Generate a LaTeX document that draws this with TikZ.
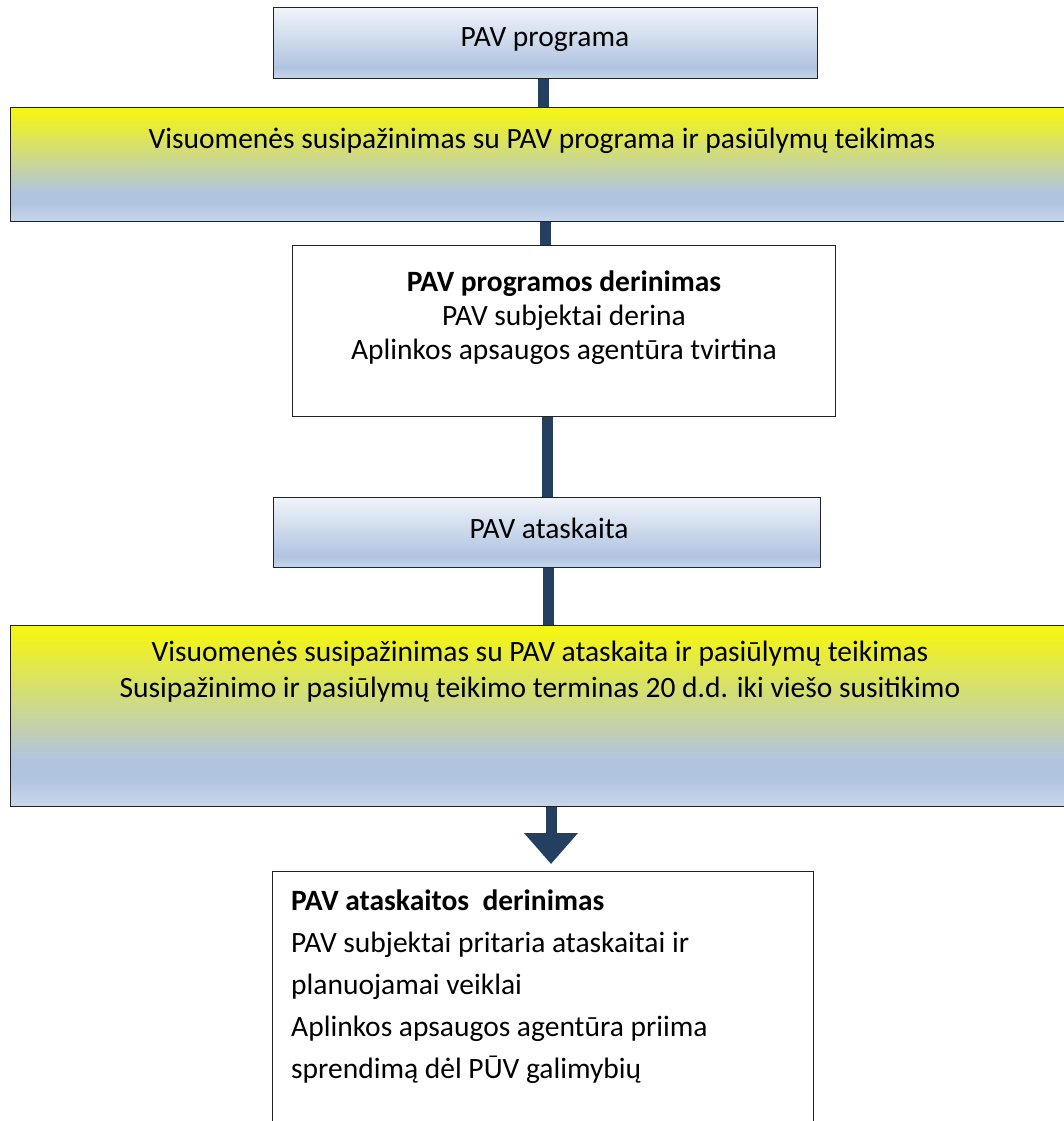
\documentclass[tikz,border=0pt]{standalone}
\usepackage{fontspec}
\setmainfont{Carlito}
\usetikzlibrary{arrows.meta}
\definecolor{yel}{RGB}{247,247,12}
\definecolor{blu}{RGB}{176,196,224}
\definecolor{blulight}{RGB}{200,215,236}
\definecolor{topwhite}{RGB}{240,244,250}
\definecolor{conn}{RGB}{36,63,96}
\definecolor{edge}{RGB}{35,35,35}
\pgfdeclareverticalshading{yelshade}{100bp}{color(0bp)=(blulight); color(25bp)=(blulight); color(33bp)=(blu); color(38bp)=(blu); color(75bp)=(yel); color(100bp)=(yel)}
\pgfdeclareverticalshading{blushade}{100bp}{color(0bp)=(blulight); color(25bp)=(blulight); color(33bp)=(blu); color(75bp)=(topwhite); color(100bp)=(topwhite)}
\tikzset{
  boxbase/.style={draw=edge, line width=1.4pt, inner sep=0pt, anchor=north west},
  blubox/.style={boxbase, shading=blushade},
  yelbox/.style={boxbase, shading=yelshade},
  whitebox/.style={boxbase, fill=white},
  txt/.style={inner sep=0pt, font=\fontsize{29.5}{34}\selectfont, align=center},
  conline/.style={draw=conn, line width=11pt, line cap=butt}
}
\begin{document}
\begin{tikzpicture}[x=1pt,y=-1pt]
\useasboundingbox (0,0) rectangle (1064,1121);
\clip (0,0) rectangle (1064,1121);
\fill[white] (0,0) rectangle (1064,1121);
% boxes
\node[blubox, minimum width=544pt, minimum height=71pt] (b1) at (273,7) {};
\node[yelbox, minimum width=1070pt, minimum height=114pt] (b2) at (10,107) {};
\node[whitebox, minimum width=543pt, minimum height=171pt] (b3) at (292,245) {};
\node[blubox, minimum width=547pt, minimum height=70pt] (b4) at (273,497) {};
\node[yelbox, minimum width=1070pt, minimum height=181pt] (b5) at (10,625) {};
\node[whitebox, minimum width=541pt, minimum height=300pt] (b6) at (272,871) {};
% texts
\node[txt] (t1) at (545,40) {PAV programa};
\node[txt] (t2) at (542,141) {Visuomenės susipažinimas su PAV programa ir pasiūlymų teikimas};
\node[txt] (t3) at (564,318) {\textbf{PAV programos derinimas}\\PAV subjektai derina\\Aplinkos apsaugos agentūra tvirtina};
\node[txt] (t4) at (549,528) {PAV ataskaita};
\node[txt, font=\fontsize{29.5}{36}\selectfont] (t5) at (540,672) {Visuomenės susipažinimas su PAV ataskaita ir pasiūlymų teikimas\\Susipažinimo ir pasiūlymų teikimo terminas 20 d.d. iki viešo susitikimo};
\node[txt, align=left, anchor=west, font=\fontsize{29.5}{42}\selectfont] (t6) at (291,987) {\textbf{PAV ataskaitos~ derinimas}\\PAV subjektai pritaria ataskaitai ir\\planuojamai veiklai\\Aplinkos apsaugos agentūra priima\\sprendimą dėl PŪV galimybių};
% connectors
\coordinate (c1) at (543,0);
\coordinate (c2) at (545,0);
\coordinate (c3) at (547,0);
\coordinate (c4) at (548,0);
\coordinate (c5) at (551,0);
\coordinate (tip) at (551,864);
\draw[conline] (b1.south -| c1) -- (b2.north -| c1);
\draw[conline] (b2.south -| c2) -- (b3.north -| c2);
\draw[conline] (b3.south -| c3) -- (b4.north -| c3);
\draw[conline] (b4.south -| c4) -- (b5.north -| c4);
\draw[conline, -{Triangle[width=52pt, length=31pt]}] (b5.south -| c5) -- (tip);
\end{tikzpicture}
\end{document}
